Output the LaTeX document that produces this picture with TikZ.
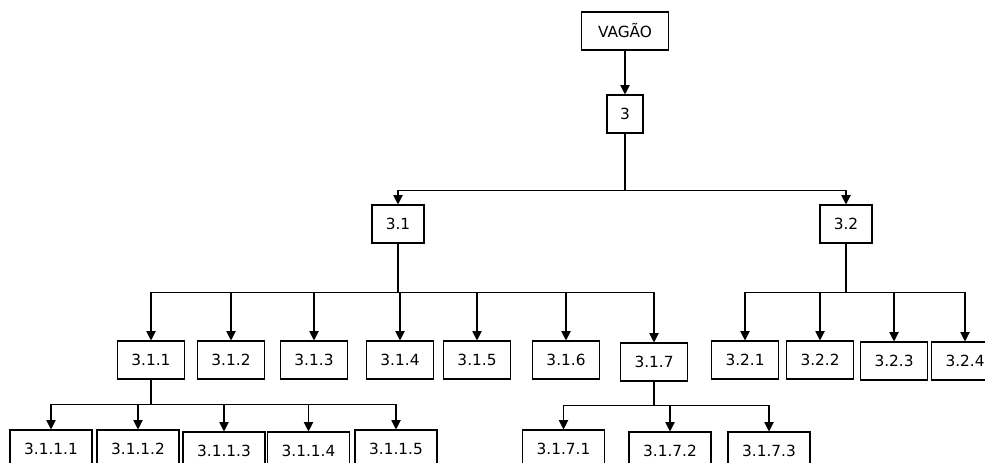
\documentclass[tikz,border=0pt]{standalone}
\usepackage{fontspec}
\setmainfont{DejaVu Sans}
\usepackage{tikz}
\usetikzlibrary{positioning,calc,arrows.meta}

\begin{document}
\begin{tikzpicture}[
    x=0.75pt, y=-0.75pt,
    box/.style={rectangle, draw, line width=0.8pt, inner sep=2pt,
                minimum height=28.5pt, font=\fontsize{11.5}{13}\selectfont},
    lvlA/.style={box, minimum width=39pt},
    lvlB/.style={box, minimum width=50.25pt},
    lvlC/.style={box, minimum width=61.5pt},
    arrow/.style={-{Triangle[width=7pt,length=7pt]}, line width=0.8pt}
]
\useasboundingbox (0,0) rectangle (985,463);

% Top
\node[box, minimum width=65.25pt] (vagao) at (625,31) {VAGÃO};
\node[box, minimum width=27pt] (n3) at (625,114) {3};

\draw[arrow] (vagao) -- (n3);

% Level 1
\node[lvlA] (n31) at (398,224) {3.1};
\node[lvlA] (n32) at (846,224) {3.2};

\coordinate (b3) at ($(n3.south)+(0,57)$);
\draw[arrow] (n3.south) -- (b3) -| (n31.north);
\draw[arrow] (b3) -| (n32.north);

% Level 2 (under 3.1)
\node[lvlB] (n311) at (151,360) {3.1.1};
\node[lvlB] (n312) at (231,360) {3.1.2};
\node[lvlB] (n313) at (314,360) {3.1.3};
\node[lvlB] (n314) at (400,360) {3.1.4};
\node[lvlB] (n315) at (477,360) {3.1.5};
\node[lvlB] (n316) at (566,360) {3.1.6};
\node[lvlB] (n317) at (654,362) {3.1.7};

\coordinate (b31) at ($(n31.south)+(0,49)$);
\draw[arrow] (n31.south) -- (b31) -| (n311.north);
\draw[arrow] (b31) -| (n312.north);
\draw[arrow] (b31) -| (n313.north);
\draw[arrow] (b31) -| (n314.north);
\draw[arrow] (b31) -| (n315.north);
\draw[arrow] (b31) -| (n316.north);
\draw[arrow] (b31) -| (n317.north);

% Level 2 (under 3.2)
\node[lvlB] (n321) at (745,360) {3.2.1};
\node[lvlB] (n322) at (820,360) {3.2.2};
\node[lvlB] (n323) at (894,361) {3.2.3};
\node[lvlB] (n324) at (965,361) {3.2.4};

\coordinate (b32) at ($(n32.south)+(0,49)$);
\draw[arrow] (n32.south) -- (b32) -| (n321.north);
\draw[arrow] (b32) -| (n322.north);
\draw[arrow] (b32) -| (n323.north);
\draw[arrow] (b32) -| (n324.north);

% Level 3 (under 3.1.1)
\node[lvlC] (n3111) at (51,449) {3.1.1.1};
\node[lvlC] (n3112) at (138,449) {3.1.1.2};
\node[lvlC] (n3113) at (224,451) {3.1.1.3};
\node[lvlC] (n3114) at (308.5,451) {3.1.1.4};
\node[lvlC] (n3115) at (396,449) {3.1.1.5};

\coordinate (b311) at ($(n311.south)+(0,25)$);
\draw[arrow] (n311.south) -- (b311) -| (n3111.north);
\draw[arrow] (b311) -| (n3112.north);
\draw[arrow] (b311) -| (n3113.north);
\draw[arrow] (b311) -| (n3114.north);
\draw[arrow] (b311) -| (n3115.north);

% Level 3 (under 3.1.7)
\node[lvlC] (n3171) at (563.5,449) {3.1.7.1};
\node[lvlC] (n3172) at (670,451) {3.1.7.2};
\node[lvlC] (n3173) at (769,451) {3.1.7.3};

\coordinate (b317) at ($(n317.south)+(0,24)$);
\draw[arrow] (n317.south) -- (b317) -| (n3171.north);
\draw[arrow] (b317) -| (n3172.north);
\draw[arrow] (b317) -| (n3173.north);

\end{tikzpicture}
\end{document}
